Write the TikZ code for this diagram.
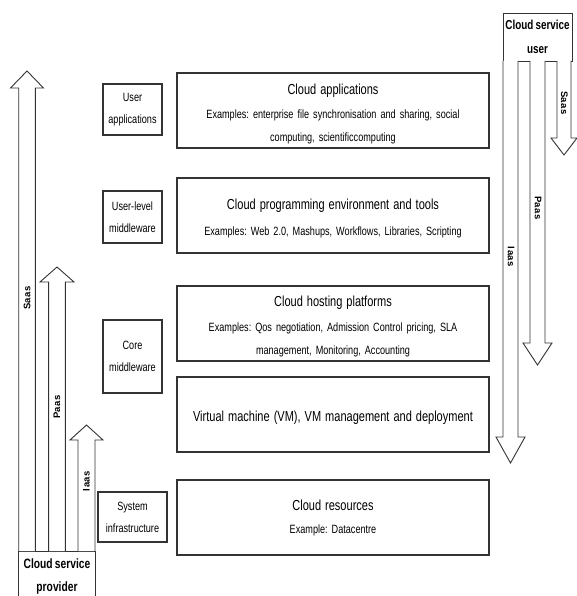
\documentclass[tikz,border=0pt]{standalone}
\usepackage{fontspec}
\setmainfont{Liberation Sans}[FakeStretch=0.76,WordSpace=0.8]
\newfontfamily\lblfont{Liberation Sans}[LetterSpace=6]
\begin{document}
\frenchspacing
\begin{tikzpicture}[x=1pt,y=-1pt,
  layer/.style={draw=black!80,line width=1.3pt,minimum width=312pt,minimum height=75pt,align=center,inner sep=2pt,text width=300pt,font=\fontsize{12}{23}\selectfont},
  tag/.style={draw=black!80,line width=1.3pt,minimum width=59pt,align=center,inner sep=1pt,font=\fontsize{12}{22}\selectfont},
  blk/.style={draw=black!80,line width=0.9pt,fill=white},
  alab/.style={font=\lblfont\bfseries\fontsize{9.5}{10}\selectfont,inner sep=0pt}]
\newcommand\ttltxt[1]{{\fontsize{14.5}{17}\selectfont #1}}
\newcommand\upstrut{\rule{0pt}{17pt}}
\useasboundingbox (0,0) rectangle (577,596);
% main layers
\node[layer] (app) at (333,110.5) {\upstrut\ttltxt{Cloud applications}\\[1pt]Examples: enterprise file synchronisation and sharing, social\\computing, scientificcomputing};
\node[layer] (prog) at (333,215.5) {\upstrut\ttltxt{Cloud programming environment and tools}\\[3pt]Examples: Web 2.0, Mashups, Workflows, Libraries, Scripting};
\node[layer] (host) at (333,323.5) {\upstrut\ttltxt{Cloud hosting platforms}\\[2pt]Examples: Qos negotiation, Admission Control pricing, SLA\\management, Monitoring, Accounting};
\node[layer] (vm) at (333,414.5) {\upstrut\ttltxt{Virtual machine (VM), VM management and deployment}};
\node[layer] (res) at (333,517.5) {\ttltxt{Cloud resources}\\Example: Datacentre};
% left tags
\node[tag,minimum height=51pt] (ua) at (132.5,109.5) {User\\applications};
\node[tag,minimum height=52pt] (ulm) at (132.5,217) {User-level\\middleware};
\node[tag,minimum height=73pt] (core) at (132.5,356.5) {Core\\middleware};
\node[tag,minimum height=50pt,minimum width=69pt] (sys) at (132.5,517) {System\\infrastructure};
% provider box (open at bottom)
\draw[black!80,line width=0.9pt] (18.7,600) -- (18.7,551) -- (95,551) -- (95,600);
\node[font=\bfseries\fontsize{13.5}{23}\selectfont,align=center,inner sep=0pt] (prov) at (57,577) {Cloud service\\provider};
% user box
\node[draw=black!80,line width=0.9pt,minimum width=69pt,minimum height=48pt,align=center,inner sep=0pt,font=\bfseries\fontsize{13}{24}\selectfont] (user) at (537.5,37) {Cloud service\\user};
% left up arrows
\draw[blk] (18.7,551) -- (18.7,88) -- (10.5,88) -- (27,71) -- (43.5,88) -- (35.3,88) -- (35.3,551);
\draw[blk] (48.6,551) -- (48.6,282) -- (40,282) -- (57,267) -- (74,282) -- (65.4,282) -- (65.4,551);
\draw[blk] (78,551) -- (78,440) -- (70,440) -- (86.5,425) -- (103,440) -- (95,440) -- (95,551);
\node[alab,rotate=90] (ls) at (27,298) {Saas};
\node[alab,rotate=90] (lp) at (57,407) {Paas};
\node[alab,rotate=90] (li) at (86.5,481) {Iaas};
% right down arrows
\draw[blk] (503,61) -- (503,437) -- (496,437) -- (510.5,463) -- (525,437) -- (518,437) -- (518,61);
\draw[blk] (530,61) -- (530,343) -- (523,343) -- (537.5,365) -- (552,343) -- (545,343) -- (545,61);
\draw[blk] (557,61) -- (557,138) -- (551,138) -- (564,155) -- (577,138) -- (571,138) -- (571,61);
\node[alab,rotate=-90] (ri) at (511,257) {Iaas};
\node[alab,rotate=-90] (rp) at (538,208) {Paas};
\node[alab,rotate=-90] (rs) at (564.5,103) {Saas};
\end{tikzpicture}
\end{document}
